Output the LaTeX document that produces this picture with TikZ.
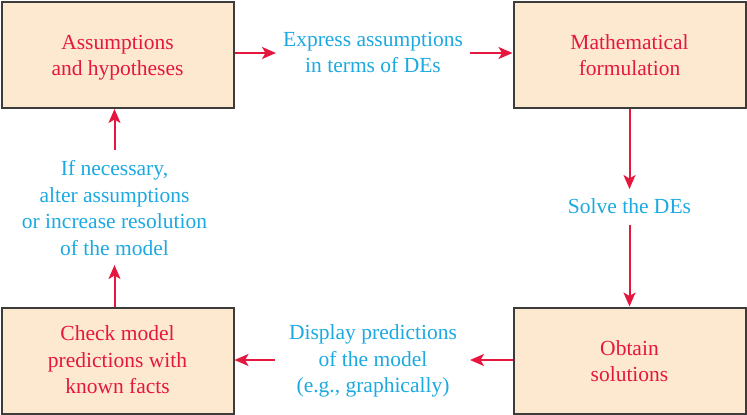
\documentclass[tikz,border=0pt]{standalone}
\usepackage{fontspec}
\setmainfont{Liberation Serif}
\usetikzlibrary{arrows.meta}
\definecolor{boxred}{HTML}{E5173F}
\definecolor{lblcyan}{HTML}{1CA9E1}
\definecolor{boxfill}{HTML}{FDE8D0}
\definecolor{boxline}{HTML}{3C3C3C}
\newcommand{\ls}{\strut}
\tikzset{
  stagebox/.style={draw=boxline, line width=2pt, fill=boxfill, text=boxred,
    minimum width=232pt, minimum height=106pt, align=center, inner sep=0pt,
    font=\fontsize{21.5}{26.5}\selectfont},
  steplabel/.style={text=lblcyan, align=center, inner sep=0pt,
    font=\fontsize{21.5}{26.5}\selectfont},
  flow/.style={draw=boxred, line width=2pt, -{Stealth[length=14pt,width=12pt,inset=3.5pt]}}
}
\begin{document}
\begin{tikzpicture}[x=1pt,y=-1pt]
\useasboundingbox (0,0) rectangle (747,415);
\node[stagebox, text depth=0pt] (assume) at (117.5,55) {};
\node[stagebox] (formul) at (629.5,55) {};
\node[stagebox] (check) at (117.5,360.5) {};
\node[stagebox] (obtain) at (629.5,360.5) {};
\node[stagebox, draw=none, fill=none] (assumet) at (117.5,57) {\ls Assumptions\\and hypotheses\ls};
\node[stagebox, draw=none, fill=none] (formult) at (629.5,57) {\ls Mathematical\\formulation\ls};
\node[stagebox, draw=none, fill=none] (checkt) at (117.5,362) {\ls Check model\\predictions with\\known facts\ls};
\node[stagebox, draw=none, fill=none] (obtaint) at (629.5,363) {\ls Obtain\\solutions\ls};

\node[steplabel] (express) at (373,54) {\ls Express assumptions\\in terms of DEs\ls};
\node[steplabel] (solve) at (629.5,208) {\ls Solve the DEs\ls};
\node[steplabel] (display) at (373,361) {\ls Display predictions\\of the model\\(e.g., graphically)\ls};
\node[steplabel] (alter) at (114.5,210) {\ls If necessary,\\alter assumptions\\or increase resolution\\of the model\ls};

\coordinate (e1) at (276,53);
\coordinate (e2) at (470,53);
\draw[flow] (assume.east |- e1) -- (e1);
\draw[flow] (e2) -- (formul.west |- e2);

\coordinate (s1) at (629.5,189);
\coordinate (s2) at (629.5,225);
\draw[flow] (formul.south) -- (s1);
\draw[flow] (s2) -- (obtain.north);

\coordinate (d1) at (470,360);
\coordinate (d2) at (275,360);
\draw[flow] (obtain.west |- d1) -- (d1);
\draw[flow] (d2) -- (check.east |- d2);

\coordinate (a1) at (114.5,265);
\coordinate (a2) at (114.5,150);
\draw[flow] (check.north -| a1) -- (a1);
\draw[flow] (a2) -- (assume.south -| a2);
\end{tikzpicture}
\end{document}
